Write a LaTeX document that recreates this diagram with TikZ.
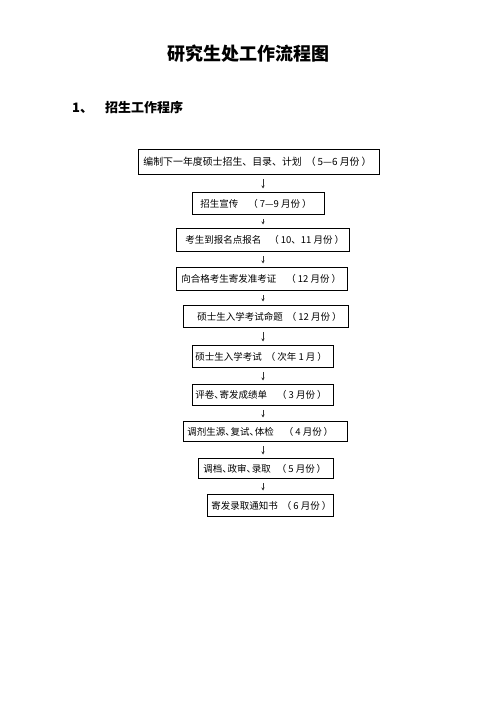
\documentclass[tikz,border=0pt]{standalone}
\usepackage{fontspec}
\setmainfont{Noto Sans CJK SC}
\usetikzlibrary{arrows.meta}
\newcommand\bxt[3]{\makebox[#1][l]{\hspace*{#2}#3}}
\newcommand\prn[1]{\hspace{4bp}（\hspace{2bp}#1\hspace{2bp}）}
\newcommand\dn{\makebox[0.55em][l]{、}}
\begin{document}
\begin{tikzpicture}[x=1bp,y=-1bp,
  box/.style={draw=black, line width=0.8bp, inner sep=0pt, anchor=north west, font=\fontsize{9.5bp}{12bp}\selectfont},
  arr/.style={draw=black!80, line width=0.5bp, -{Stealth[length=3bp,width=3bp]}, shorten <=4bp, shorten >=3.5bp},
  ttl/.style={font=\fontsize{18bp}{22bp}\selectfont\bfseries},
  hd/.style={font=\fontsize{13bp}{16bp}\selectfont\bfseries, anchor=west, inner sep=0pt}]
\useasboundingbox (0,0) rectangle (496,702);
\node[ttl] (title) at (248,54) {研究生处工作流程图};
\node[hd] (num) at (72,108) {1、};
\node[hd] (head) at (105,108) {招生工作程序};
\coordinate (ax) at (263,0);
\node[box, minimum height=25bp, font=\fontsize{9.9bp}{12bp}\selectfont] (b1) at (138,149) {\bxt{241bp}{5bp}{编制下一年度硕士招生、目录、计划\prn{5—6 月份}}};
\node[box, minimum height=22bp] (b2) at (192,192) {\bxt{132bp}{8bp}{招生宣传\hspace{6bp}\prn{7—9 月份}}};
\node[box, minimum height=23bp] (b3) at (176,228) {\bxt{173bp}{9bp}{考生到报名点报名\hspace{4bp}\prn{10、11 月份}}};
\node[box, minimum height=23bp] (b4) at (176,267) {\bxt{171bp}{5bp}{向合格考生寄发准考证\hspace{6bp}\prn{12 月份}}};
\node[box, minimum height=22bp] (b5) at (183,305) {\bxt{165bp}{14bp}{硕士生入学考试命题\prn{12 月份}}};
\node[box, minimum height=22bp] (b6) at (192,345) {\bxt{141bp}{3bp}{硕士生入学考试\prn{次年 1 月}}};
\node[box, minimum height=21bp] (b7) at (192,384) {\bxt{141bp}{3bp}{评卷\dn 寄发成绩单\hspace{6bp}\prn{3 月份}}};
\node[box, minimum height=20bp] (b8) at (183,421) {\bxt{164bp}{4bp}{调剂生源\dn 复试\dn 体检\hspace{6bp}\prn{4 月份}}};
\node[box, minimum height=20bp] (b9) at (198,458) {\bxt{135bp}{5bp}{调档\dn 政审\dn 录取\hspace{2bp}\prn{5 月份}}};
\node[box, minimum height=22bp] (b10) at (207,494) {\bxt{126bp}{4bp}{寄发录取通知书\prn{6 月份}}};
\foreach \a/\b in {b1/b2,b2/b3,b3/b4,b4/b5,b5/b6,b6/b7,b7/b8,b8/b9,b9/b10}
  \draw[arr] (\a.south -| ax) -- (\b.north -| ax);
\end{tikzpicture}
\end{document}
